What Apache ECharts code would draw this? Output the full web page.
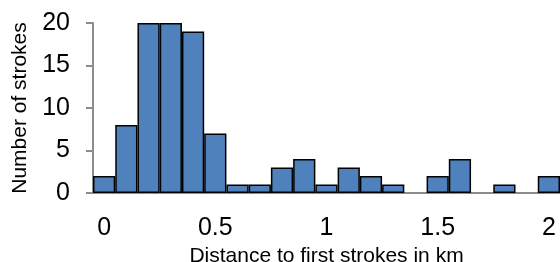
<!DOCTYPE html>
<html>
<head>
<meta charset="utf-8">
<script src="https://cdn.jsdelivr.net/npm/echarts@6/dist/echarts.min.js"></script>
<style>
  html, body { margin: 0; padding: 0; background: #fff; }
  #chart { width: 560px; height: 262px; }
</style>
</head>
<body>
<div id="chart"></div>
<script>
// bin centres in km (bin width 0.1)
const distances = ['0', '0.1', '0.2', '0.3', '0.4', '0.5', '0.6', '0.7', '0.8', '0.9', '1',
  '1.1', '1.2', '1.3', '1.4', '1.5', '1.6', '1.7', '1.8', '1.9', '2']
const strokeCounts = [2, 8, 20, 20, 19, 7, 1, 1, 3, 4, 1, 3, 2, 1, 0, 2, 4, 0, 1, 0, 2]
const yTicks = [0, 5, 10, 15, 20]

const chart = echarts.init(document.getElementById('chart'), null, { renderer: 'canvas' })

const font = 'Liberation Sans, Arial, sans-serif'

// empty bins get no outline so the axis line stays gray there
const barData = strokeCounts.map(v => v === 0
  ? { value: v, itemStyle: { borderWidth: 0 } }
  : v)

chart.setOption({
  animation: false,
  grid: {
    left: 93,
    right: 0,
    top: 23,
    bottom: 69,
    outerBoundsMode: 'none',
    containLabel: false
  },
  xAxis: {
    type: 'category',
    data: distances,
    boundaryGap: true,
    name: 'Distance to first strokes in km',
    nameLocation: 'middle',
    nameGap: 46,
    nameTextStyle: { fontFamily: font, fontSize: 21, color: '#000' },
    axisLine: { lineStyle: { color: '#8c8c8c', width: 2 } },
    axisTick: { show: false },
    axisLabel: {
      interval: 4,
      fontFamily: font,
      fontSize: 25,
      color: '#000',
      margin: 23
    }
  },
  yAxis: {
    type: 'value',
    min: yTicks[0],
    max: yTicks[yTicks.length - 1],
    interval: 5,
    name: 'Number of strokes',
    nameLocation: 'middle',
    nameGap: 62,
    nameTextStyle: { fontFamily: font, fontSize: 21, color: '#000' },
    axisLine: { show: true, lineStyle: { color: '#8c8c8c', width: 2 } },
    axisTick: { show: true, length: 7, lineStyle: { color: '#8c8c8c', width: 2 } },
    splitLine: { show: false },
    axisLabel: {
      fontFamily: font,
      fontSize: 25,
      color: '#000',
      margin: 23
    }
  },
  series: [{
    type: 'bar',
    data: barData,
    barWidth: '100%',
    barGap: 0,
    itemStyle: {
      color: '#4f81bd',
      borderColor: '#000',
      borderWidth: 1.5
    }
  }]
})
</script>
</body>
</html>
